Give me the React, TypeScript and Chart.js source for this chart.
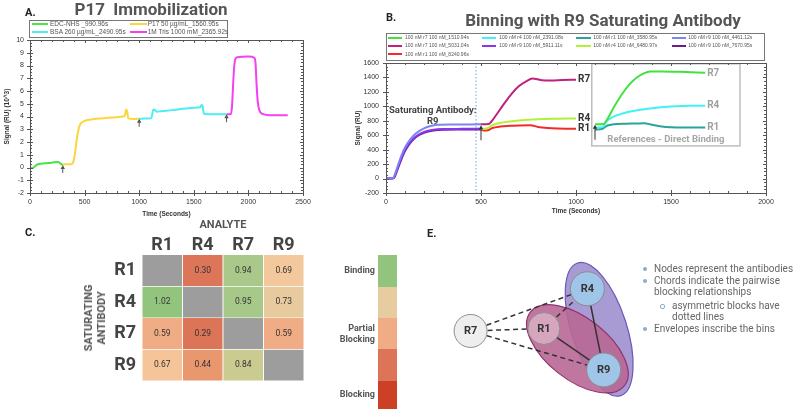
import React, { useEffect, useRef } from 'react';
import { Chart, registerables } from 'chart.js';
Chart.register(...registerables);

const SANS = "Roboto, 'Liberation Sans', Arial, sans-serif";
const TICK = "'Liberation Sans', Arial, sans-serif";

// ---------------- Panel A data (time s, signal RU x10^3)
const aLabels = ['EDC-NHS _990.96s', 'P17 50 µg/mL_1560.95s', 'BSA 260 µg/mL_2490.95s', '1M Tris 1000 mM_2365.92s'];
const aEdcT = [0, 10, 20, 40, 60, 80, 100, 150, 200, 250, 262, 280, 300];
const aEdcV = [0, -0.02, -0.05, 0.05, 0.2, 0.27, 0.3, 0.34, 0.38, 0.44, 0.42, 0.3, 0.2];
const aP17T = [300, 320, 380, 395, 410, 425, 440, 455, 470, 500, 550, 650, 750, 850, 870, 880, 890, 900, 950, 1000];
const aP17V = [0.22, 0.25, 0.26, 0.4, 1.0, 2.0, 2.8, 3.3, 3.5, 3.65, 3.75, 3.85, 3.92, 4.0, 4.1, 4.55, 4.4, 3.85, 3.8, 3.84];
const aBsaT = [1000, 1050, 1110, 1120, 1130, 1145, 1160, 1200, 1300, 1400, 1500, 1560, 1570, 1580, 1590, 1600, 1700, 1800];
const aBsaV = [3.82, 3.84, 3.86, 4.2, 4.55, 4.5, 4.38, 4.42, 4.5, 4.6, 4.68, 4.72, 4.9, 4.85, 4.3, 4.2, 4.18, 4.18];
const aTrisT = [1800, 1840, 1850, 1860, 1870, 1880, 1900, 2000, 2055, 2065, 2075, 2085, 2100, 2130, 2200, 2360];
const aTrisV = [4.18, 4.2, 4.8, 6.5, 7.9, 8.5, 8.65, 8.7, 8.6, 8.2, 6.5, 5.2, 4.5, 4.2, 4.1, 4.1];
const aArrowT = [300, 1000, 1800];
const aArrowV = [0.2, 3.82, 4.18];

// ---------------- Panel B data (time s, signal RU)
const bLabels = [
  '100 nM r7 100 nM_1510.94s', '100 nM r4 100 nM_2391.08s', '100 nM r1 100 nM_3580.95s', '100 nM r9 100 nM_4461.12s',
  '100 nM r7 100 nM_5031.04s', '100 nM r9 100 nM_5911.11s', '100 nM r4 100 nM_6480.97s', '100 nM r9 100 nM_7670.95s',
  '100 nM r1 100 nM_8240.96s',
];
const bRefR7T = [1100, 1145, 1160, 1200, 1240, 1280, 1320, 1360, 1390, 1450, 1550, 1680];
const bRefR7V = [752, 755, 800, 990, 1160, 1300, 1400, 1460, 1482, 1484, 1478, 1465];
const bRefR4T = [1100, 1140, 1160, 1200, 1250, 1300, 1400, 1500, 1600, 1680];
const bRefR4V = [705, 712, 790, 860, 905, 935, 975, 998, 1008, 1008];
const bRefR1T = [1100, 1140, 1165, 1200, 1260, 1320, 1360, 1400, 1450, 1500, 1600, 1680];
const bRefR1V = [675, 690, 735, 752, 760, 763, 765, 745, 722, 712, 708, 706];
const bSatAT = [0, 30, 40, 60, 80, 100, 130, 160, 200, 240, 270, 350, 450, 500];
const bSatAV = [0, 0, 15, 160, 310, 430, 550, 630, 695, 730, 745, 748, 750, 752];
const bAnR7T = [500, 540, 555, 580, 620, 660, 700, 740, 770, 790, 820, 870, 930, 1000];
const bAnR7V = [752, 755, 790, 880, 1030, 1170, 1280, 1350, 1385, 1380, 1362, 1358, 1365, 1368];
const bSatBT = [0, 30, 40, 60, 80, 100, 130, 160, 200, 250, 300, 400, 500];
const bSatBV = [0, 0, 10, 140, 280, 400, 515, 590, 645, 675, 685, 688, 690];
const bAnR4T = [500, 520, 540, 560, 600, 650, 700, 800, 900, 1000];
const bAnR4V = [690, 688, 705, 740, 770, 790, 805, 822, 828, 832];
const bSatCT = [0, 30, 42, 60, 80, 100, 130, 160, 200, 250, 300, 400, 500];
const bSatCV = [0, 0, 8, 120, 260, 380, 500, 580, 635, 665, 675, 678, 680];
const bAnR1T = [500, 515, 535, 560, 600, 650, 700, 760, 800, 850, 900, 1000];
const bAnR1V = [680, 665, 668, 700, 720, 730, 735, 738, 715, 700, 693, 690];
const bArrowT = [500, 1100];
const bArrowV = [738, 745];
const bInjectT = 474;

// ---------------- Panel C data
const heatCols = ['R1', 'R4', 'R7', 'R9'];
const heatRows = ['R1', 'R4', 'R7', 'R9'];
const heatR1 = [null, 0.30, 0.94, 0.69];
const heatR4 = [1.02, null, 0.95, 0.73];
const heatR7 = [0.59, 0.29, null, 0.59];
const heatR9 = [0.67, 0.44, 0.84, null];
const heatScaleLabels = ['Binding', '', 'Partial\nBlocking', '', 'Blocking'];

// ---------------- Panel E data
const nodeNames = ['R7', 'R1', 'R4', 'R9'];
const edgeFrom = ['R7', 'R7', 'R7', 'R1', 'R1', 'R4'];
const edgeTo = ['R4', 'R1', 'R9', 'R4', 'R9', 'R9'];
const edgeDashed = [true, true, true, true, false, false];
const notes = [
  { level: 0, text: 'Nodes represent the antibodies' },
  { level: 0, text: 'Chords indicate the pairwise' },
  { level: -1, text: 'blocking relationships' },
  { level: 1, text: 'asymmetric blocks have' },
  { level: -2, text: 'dotted lines' },
  { level: 0, text: 'Envelopes inscribe the bins' },
];

// ---------------- styles / layout
const aColors = ['#45e645', '#fcd53f', '#4cedf4', '#f53ff2'];
const bColors = ['#40e33c', '#42f2f2', '#2ba39b', '#7d83f3', '#c0217c', '#8a35ee', '#b3f03a', '#6e1b8c', '#f42a2a'];
const heatStops: [number, string][] = [
  [0.29, '#dc7457'], [0.44, '#e9976f'], [0.59, '#f0ad85'], [0.68, '#f6c79b'], [0.73, '#e7cb9e'],
  [0.84, '#c9cb90'], [0.94, '#a9c88a'], [1.02, '#93c47d'],
];
const scaleColors = ['#93c47d', '#e6cc9f', '#f0ad85', '#dc7457', '#cc4125'];
const nodeLayout: Record<string, { x: number; y: number; r: number; fill: string }> = {
  R7: { x: 36, y: 117, r: 16.5, fill: '#eeeeee' },
  R1: { x: 117, y: 114, r: 16, fill: '#d5a6bd' },
  R4: { x: 165, y: 65, r: 17, fill: '#9fc5e8' },
  R9: { x: 183, y: 165, r: 17, fill: '#9fc5e8' },
};
const binLayout = [
  { cx: 178, cy: 115, a: 77, b: 34, rot: 72, fill: 'rgba(168,154,210,1)', stroke: '#6a58b8' },
  { cx: 154, cy: 139, a: 66, b: 38, rot: 38, fill: 'rgba(184,104,150,0.9)', stroke: '#93336e' },
];

function heatColor(v: number | null) {
  if (v == null) return '#9d9d9d';
  const hex = (s: string) => [1, 3, 5].map((i) => parseInt(s.slice(i, i + 2), 16));
  if (v <= heatStops[0][0]) return heatStops[0][1];
  for (let i = 1; i < heatStops.length; i++) {
    const [v1, c1] = heatStops[i];
    const [v0, c0] = heatStops[i - 1];
    if (v <= v1) {
      const t = (v - v0) / (v1 - v0);
      const a = hex(c0), b = hex(c1);
      return `rgb(${a.map((x, k) => Math.round(x + (b[k] - x) * t)).join(',')})`;
    }
  }
  return heatStops[heatStops.length - 1][1];
}

function pts(T: number[], V: number[]) {
  return T.map((t, i) => ({ x: t, y: V[i] }));
}
function lineDs(label: string, T: number[], V: number[], color: string) {
  return {
    label, data: pts(T, V), borderColor: color, backgroundColor: color, borderWidth: 2,
    pointRadius: 0, cubicInterpolationMode: 'monotone', fill: false,
  };
}

// ---------------- plugins
const framePlugin = {
  id: 'frame',
  afterDraw(chart: any, _a: any, o: any) {
    if (!o || !o.enabled) return;
    const { ctx, chartArea: ca, scales } = chart;
    const xs = scales.x, ys = scales.y;
    ctx.save();
    ctx.strokeStyle = o.color;
    ctx.lineWidth = 1;
    ctx.strokeRect(Math.round(ca.left) + 0.5, Math.round(ca.top) + 0.5, Math.round(ca.right - ca.left), Math.round(ca.bottom - ca.top));
    ctx.beginPath();
    const nx = Math.round((xs.max - xs.min) / o.xMinor);
    for (let i = 0; i <= nx; i++) {
      const v = xs.min + i * o.xMinor;
      const px = Math.round(xs.getPixelForValue(v)) + 0.5;
      const major = Math.abs(v / o.xMajor - Math.round(v / o.xMajor)) < 1e-6;
      const len = major ? 3 : 2;
      ctx.moveTo(px, ca.bottom + (major ? 3 : 0));
      ctx.lineTo(px, ca.bottom - len);
      ctx.moveTo(px, ca.top);
      ctx.lineTo(px, ca.top + len);
    }
    const ny = Math.round((ys.max - ys.min) / o.yMinor);
    for (let i = 0; i <= ny; i++) {
      const v = ys.min + i * o.yMinor;
      const py = Math.round(ys.getPixelForValue(v)) + 0.5;
      const major = Math.abs(v / o.yMajor - Math.round(v / o.yMajor)) < 1e-6;
      const len = major ? 3 : 2;
      ctx.moveTo(ca.left - (major ? 3 : 0), py);
      ctx.lineTo(ca.left + len, py);
      ctx.moveTo(ca.right, py);
      ctx.lineTo(ca.right - len, py);
    }
    ctx.stroke();
    ctx.restore();
  },
};

const decorPlugin = {
  id: 'decor',
  beforeDatasetsDraw(chart: any, _a: any, o: any) {
    const { ctx, chartArea: ca, scales: { x, y } } = chart;
    ctx.save();
    (o.vlines || []).forEach((v: any) => {
      const px = x.getPixelForValue(v.x);
      ctx.strokeStyle = v.color;
      ctx.lineWidth = 1;
      ctx.setLineDash([1.5, 2]);
      ctx.beginPath();
      ctx.moveTo(px, ca.top);
      ctx.lineTo(px, ca.bottom);
      ctx.stroke();
      ctx.setLineDash([]);
    });
    (o.boxes || []).forEach((b: any) => {
      const x0 = x.getPixelForValue(b.x0), x1 = x.getPixelForValue(b.x1);
      const y0 = y.getPixelForValue(b.y1), y1 = y.getPixelForValue(b.y0);
      ctx.strokeStyle = b.color;
      ctx.lineWidth = 1.5;
      ctx.strokeRect(x0, y0, x1 - x0, y1 - y0);
    });
    ctx.restore();
  },
  afterDatasetsDraw(chart: any, _a: any, o: any) {
    const { ctx, scales: { x, y } } = chart;
    ctx.save();
    (o.arrows || []).forEach((a: any) => {
      const px = x.getPixelForValue(a.x), py = y.getPixelForValue(a.y);
      ctx.strokeStyle = a.color;
      ctx.fillStyle = a.color;
      ctx.lineWidth = 1;
      ctx.beginPath();
      ctx.moveTo(px, py + 2);
      ctx.lineTo(px, py + a.len);
      ctx.stroke();
      ctx.beginPath();
      ctx.moveTo(px, py);
      ctx.lineTo(px - 2.2, py + 4);
      ctx.lineTo(px + 2.2, py + 4);
      ctx.closePath();
      ctx.fill();
    });
    (o.texts || []).forEach((t: any) => {
      ctx.font = t.font;
      ctx.fillStyle = t.color;
      ctx.textAlign = t.align || 'center';
      ctx.textBaseline = 'middle';
      ctx.fillText(t.text, x.getPixelForValue(t.x), y.getPixelForValue(t.y));
    });
    (o.endLabels || []).forEach((l: any) => {
      const meta = chart.getDatasetMeta(l.ds);
      const last = meta.data[meta.data.length - 1];
      ctx.font = l.font;
      ctx.fillStyle = l.color;
      ctx.textAlign = 'left';
      ctx.textBaseline = 'middle';
      ctx.fillText(l.text, last.x + l.dx, last.y + (l.dy || 0));
    });
    ctx.restore();
  },
};

const cellTextPlugin = {
  id: 'cellText',
  afterDatasetsDraw(chart: any, _a: any, o: any) {
    const { ctx } = chart;
    ctx.save();
    ctx.font = `8.5px ${SANS}`;
    ctx.fillStyle = '#333';
    ctx.textAlign = 'center';
    ctx.textBaseline = 'middle';
    chart.data.datasets.forEach((ds: any, i: number) => {
      const meta = chart.getDatasetMeta(i);
      meta.data.forEach((bar: any, j: number) => {
        const v = o.values[i][j];
        if (v == null) return;
        ctx.fillText(v.toFixed(2), bar.x, (bar.y + bar.base) / 2);
      });
    });
    ctx.restore();
  },
};

const networkPlugin = {
  id: 'network',
  beforeDatasetsDraw(chart: any) {
    const { ctx, scales: { x, y } } = chart;
    const sx = (v: number) => x.getPixelForValue(v);
    const sy = (v: number) => y.getPixelForValue(v);
    ctx.save();
    binLayout.forEach((b) => {
      const rx = Math.abs(sx(b.a) - sx(0)), ry = Math.abs(sy(b.b) - sy(0));
      ctx.beginPath();
      ctx.ellipse(sx(b.cx), sy(b.cy), rx, ry, (b.rot * Math.PI) / 180, 0, Math.PI * 2);
      ctx.fillStyle = b.fill;
      ctx.fill();
      ctx.strokeStyle = b.stroke;
      ctx.lineWidth = 1.2;
      ctx.stroke();
    });
    ctx.restore();
  },
  afterDatasetsDraw(chart: any) {
    const { ctx } = chart;
    const meta = chart.getDatasetMeta(0);
    ctx.save();
    ctx.font = `bold 11px ${SANS}`;
    ctx.fillStyle = '#333';
    ctx.textAlign = 'center';
    ctx.textBaseline = 'middle';
    meta.data.forEach((p: any, i: number) => ctx.fillText(nodeNames[i], p.x, p.y + 0.5));
    ctx.restore();
  },
};

// ---------------- axes helper
function xyAxes(o: any) {
  return {
    x: {
      type: 'linear', min: o.xmin, max: o.xmax,
      ticks: { stepSize: o.xstep, color: '#333', font: { family: TICK, size: 7 }, padding: 4.5, maxRotation: 0, autoSkip: false, callback: (v: number) => String(v) },
      grid: { display: false, drawTicks: false }, border: { display: false },
      title: { display: true, text: 'Time (Seconds)', color: '#333', font: { family: TICK, size: 6.5, weight: 'bold' }, padding: { top: 0, bottom: o.xtp } },
      afterFit: (s: any) => { s.height = o.xh; },
    },
    y: {
      type: 'linear', min: o.ymin, max: o.ymax,
      ticks: { stepSize: o.ystep, color: '#333', font: { family: TICK, size: 7 }, padding: o.ypad, autoSkip: false, callback: (v: number) => String(v) },
      grid: { display: false, drawTicks: false }, border: { display: false },
      title: { display: true, text: o.ytitle, color: '#333', font: { family: TICK, size: 6.5, weight: 'bold' }, padding: { top: o.ytp, bottom: 0 } },
      afterFit: (s: any) => { s.width = o.yw; },
    },
  };
}

const baseOpts = {
  responsive: false, animation: false, events: [],
  plugins: { legend: { display: false }, tooltip: { enabled: false } },
};

function configA() {
  const T = [aEdcT, aP17T, aBsaT, aTrisT];
  const V = [aEdcV, aP17V, aBsaV, aTrisV];
  return {
    type: 'line',
    data: { datasets: aLabels.map((l, i) => lineDs(l, T[i], V[i], aColors[i])) },
    options: {
      ...baseOpts,
      layout: { padding: { top: 40, right: 17, left: 0, bottom: 0 } },
      scales: xyAxes({ xmin: 0, xmax: 2500, xstep: 500, ymin: -2, ymax: 10, ystep: 1, xh: 29, yw: 30, xtp: 4, ytp: 3, ypad: 6, ytitle: 'Signal (RU) (10^3)' }),
      plugins: {
        ...baseOpts.plugins,
        frame: { enabled: true, color: '#555', xMinor: 100, xMajor: 500, yMinor: 0.25, yMajor: 1 },
        decor: { arrows: aArrowT.map((t, i) => ({ x: t, y: aArrowV[i], len: 8, color: '#555' })) },
      },
    },
    plugins: [framePlugin, decorPlugin],
  };
}

function configB() {
  const T = [bRefR7T, bRefR4T, bRefR1T, bSatAT, bAnR7T, bSatBT, bAnR4T, bSatCT, bAnR1T];
  const V = [bRefR7V, bRefR4V, bRefR1V, bSatAV, bAnR7V, bSatBV, bAnR4V, bSatCV, bAnR1V];
  const dark = `bold 10px ${SANS}`;
  return {
    type: 'line',
    data: { datasets: bLabels.map((l, i) => lineDs(l, T[i], V[i], bColors[i])) },
    options: {
      ...baseOpts,
      layout: { padding: { top: 63, right: 34, left: 0, bottom: 0 } },
      scales: xyAxes({ xmin: 0, xmax: 2000, xstep: 500, ymin: -200, ymax: 1600, ystep: 200, xh: 29, yw: 36, xtp: 7, ytp: 4, ypad: 7, ytitle: 'Signal (RU)' }),
      plugins: {
        ...baseOpts.plugins,
        frame: { enabled: true, color: '#555', xMinor: 100, xMajor: 500, yMinor: 50, yMajor: 200 },
        decor: {
          vlines: [{ x: bInjectT, color: '#6fa8dc' }],
          boxes: [{ x0: 1083, x1: 1863, y0: 452, y1: 1589, color: '#bdbdbd' }],
          arrows: bArrowT.map((t, i) => ({ x: t, y: bArrowV[i], len: 15, color: '#333' })),
          texts: [
            { x: 246, y: 945, text: 'Saturating Antibody:', font: `bold 9.5px ${SANS}`, color: '#444' },
            { x: 246, y: 793, text: 'R9', font: `bold 9.5px ${SANS}`, color: '#444' },
            { x: 1473, y: 536, text: 'References - Direct Binding', font: `bold 9.5px ${SANS}`, color: '#a6a6a6' },
          ],
          endLabels: [
            { ds: 4, text: 'R7', dx: 2, font: dark, color: '#333' },
            { ds: 6, text: 'R4', dx: 2, font: dark, color: '#333' },
            { ds: 8, text: 'R1', dx: 2, font: dark, color: '#333' },
            { ds: 0, text: 'R7', dx: 2, dy: 1, font: dark, color: '#a0a0a0' },
            { ds: 1, text: 'R4', dx: 2, font: dark, color: '#a0a0a0' },
            { ds: 2, text: 'R1', dx: 2, font: dark, color: '#a0a0a0' },
          ],
        },
      },
    },
    plugins: [framePlugin, decorPlugin],
  };
}

function configC() {
  const rows = [heatR1, heatR4, heatR7, heatR9];
  return {
    type: 'bar',
    data: {
      labels: heatCols,
      datasets: heatRows.map((r, i) => ({
        label: r,
        data: heatCols.map(() => 1),
        backgroundColor: rows[i].map((v) => heatColor(v)),
        borderColor: 'rgba(255,255,255,0.7)',
        borderWidth: 0.8,
        categoryPercentage: 1,
        barPercentage: 1,
      })),
    },
    options: {
      ...baseOpts,
      layout: { padding: { top: 0, right: 116, left: 0, bottom: 28 } },
      scales: {
        x: {
          stacked: true, position: 'top',
          grid: { display: false, drawTicks: false }, border: { display: false },
          ticks: { color: '#444', font: { family: SANS, size: 18, weight: 'bold', lineHeight: 1 }, padding: 1 },
          afterFit: (s: any) => { s.height = 37; },
        },
        y: {
          stacked: true, min: 0, max: 4, reverse: true,
          afterBuildTicks: (s: any) => { s.ticks = heatRows.map((_, i) => ({ value: i + 0.5 })); },
          grid: { display: false, drawTicks: false }, border: { display: false },
          ticks: { color: '#444', font: { family: SANS, size: 18, weight: 'bold' }, padding: 6, callback: (v: number) => heatRows[Math.floor(v)] },
          afterFit: (s: any) => { s.width = 142; },
        },
      },
      plugins: { ...baseOpts.plugins, cellText: { values: rows } },
    },
    plugins: [cellTextPlugin],
  };
}

function configE() {
  const pt = (n: string) => ({ x: nodeLayout[n].x, y: nodeLayout[n].y });
  const nodes = {
    label: 'nodes',
    data: nodeNames.map(pt),
    pointRadius: nodeNames.map((n) => nodeLayout[n].r),
    pointBackgroundColor: nodeNames.map((n) => nodeLayout[n].fill),
    pointBorderColor: '#8c8c8c',
    pointBorderWidth: 1,
    showLine: false,
    order: 0,
  };
  const edges = edgeFrom.map((f, i) => ({
    label: `${f}-${edgeTo[i]}`,
    data: [pt(f), pt(edgeTo[i])],
    showLine: true,
    borderColor: '#333',
    borderWidth: 1.5,
    borderDash: edgeDashed[i] ? [5, 3.5] : [],
    pointRadius: 0,
    order: 1,
  }));
  return {
    type: 'scatter',
    data: { datasets: [nodes, ...edges] },
    options: {
      ...baseOpts,
      layout: { padding: 0 },
      scales: {
        x: { type: 'linear', min: 0, max: 380, display: false },
        y: { type: 'linear', min: 0, max: 191, reverse: true, display: false },
      },
    },
    plugins: [networkPlugin],
  };
}

function ChartCanvas({ make, left, top, width, height }: any) {
  const ref = useRef<HTMLCanvasElement>(null);
  useEffect(() => {
    const chart = new Chart(ref.current as HTMLCanvasElement, make());
    return () => chart.destroy();
  }, []);
  return <canvas ref={ref} width={width} height={height} style={{ position: 'absolute', left, top, width, height }} />;
}

function Txt({ x, y, size, weight = 'normal', color = '#333', align = 'left', family = SANS, children, lh }: any) {
  const tx = align === 'center' ? '-50%' : align === 'right' ? '-100%' : '0';
  const lineH = lh || size;
  return (
    <div style={{
      position: 'absolute', left: x, top: y - lineH / 2, fontSize: size, lineHeight: `${lineH}px`, fontWeight: weight,
      color, fontFamily: family, whiteSpace: 'pre', transform: `translateX(${tx})`, textAlign: align as any,
    }}>{children}</div>
  );
}

function LegendGrid({ labels, colors, colX, textX, rowY, size, lineW }: any) {
  return (
    <>
      {labels.map((l: string, i: number) => {
        const c = i % colX.length, r = Math.floor(i / colX.length);
        return (
          <React.Fragment key={i}>
            <div style={{ position: 'absolute', left: colX[c], top: rowY[r] - 1, width: lineW, height: 2, background: colors[i] }} />
            <Txt x={textX[c]} y={rowY[r]} size={size} color="#555" family={TICK}>{l}</Txt>
          </React.Fragment>
        );
      })}
    </>
  );
}

export default function App() {
  const segTop = [255, 287, 318, 349, 381];
  const segH = [32, 31, 31, 32, 28];
  return (
    <div style={{ position: 'absolute', left: 0, top: 0, width: 800, height: 409, background: '#fff', overflow: 'hidden' }}>
      <ChartCanvas make={configA} left={0} top={0} width={320} height={222} />
      <ChartCanvas make={configB} left={350} top={0} width={450} height={222} />
      <ChartCanvas make={configC} left={0} top={218} width={420} height={191} />
      <ChartCanvas make={configE} left={420} top={218} width={380} height={191} />

      {/* Panel A titles & legend */}
      <Txt x={25} y={12.5} size={11} weight="bold" color="#222">A.</Txt>
      <Txt x={151} y={9.5} size={17} weight="bold" color="#555" align="center">{'P17  Immobilization'}</Txt>
      <div style={{ position: 'absolute', left: 29, top: 20, width: 197, height: 16, border: '1px solid #777' }} />
      <LegendGrid labels={aLabels} colors={aColors} colX={[31.7, 130]} textX={[50, 147.7]} rowY={[24.3, 32.3]} size={6.5} lineW={16.5} />

      {/* Panel B titles & legend */}
      <Txt x={386} y={17} size={11} weight="bold" color="#222">B.</Txt>
      <Txt x={603} y={20} size={17} weight="bold" color="#555" align="center">Binning with R9 Saturating Antibody</Txt>
      <div style={{ position: 'absolute', left: 386, top: 33, width: 377, height: 26, border: '1px solid #777' }} />
      <LegendGrid labels={bLabels} colors={bColors} colX={[387.5, 481.7, 576, 671.7]} textX={[405, 499.3, 593.3, 688.3]} rowY={[37.6, 45.8, 54]} size={5} lineW={14.5} />

      {/* Panel C */}
      <Txt x={25} y={232.5} size={11} weight="bold" color="#222">C.</Txt>
      <Txt x={223} y={224} size={11} weight="bold" color="#555" align="center">ANALYTE</Txt>
      <div style={{
        position: 'absolute', left: 95, top: 318, transform: 'translate(-50%, -50%) rotate(-90deg)',
        fontFamily: SANS, fontSize: 11, fontWeight: 'bold', color: '#555', lineHeight: '13px', textAlign: 'center', whiteSpace: 'pre',
      }}>{'SATURATING\nANTIBODY'}</div>
      {scaleColors.map((c, i) => (
        <div key={i} style={{ position: 'absolute', left: 378, top: segTop[i], width: 19, height: segH[i], background: c, borderBottom: '1px solid rgba(255,255,255,0.6)' }} />
      ))}
      {heatScaleLabels.map((l, i) => l ? (
        <div key={i} style={{
          position: 'absolute', left: 375, top: segTop[i] + segH[i] / 2, transform: 'translate(-100%, -50%)',
          fontFamily: SANS, fontSize: 9, fontWeight: 'bold', color: '#555', lineHeight: '11.5px', textAlign: 'right', whiteSpace: 'pre',
        }}>{l}</div>
      ) : null)}

      {/* Panel E */}
      <Txt x={427} y={233} size={11} weight="bold" color="#222">E.</Txt>
      {notes.map((n, i) => {
        const y = [269.3, 281, 292.3, 305.5, 317.3, 329.3][i];
        const indent = n.level === 1 || n.level === -2;
        return (
          <React.Fragment key={i}>
            {n.level === 0 && <div style={{ position: 'absolute', left: 643, top: y - 2, width: 4, height: 4, borderRadius: 2, background: '#8fa9cf' }} />}
            {n.level === 1 && <div style={{ position: 'absolute', left: 660, top: y - 2, width: 3, height: 3, borderRadius: 2, border: '0.8px solid #8fa9cf' }} />}
            <Txt x={indent ? 672 : 654} y={y} size={10} color="#666">{n.text}</Txt>
          </React.Fragment>
        );
      })}
    </div>
  );
}
